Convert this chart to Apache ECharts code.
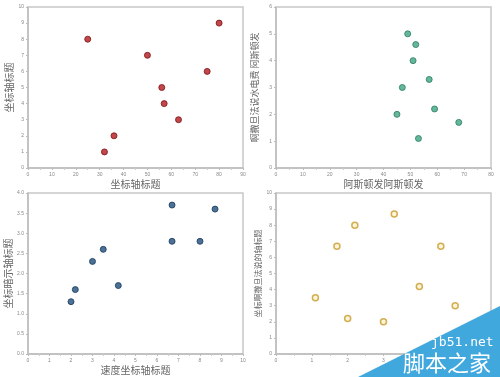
<!DOCTYPE html>
<html><head><meta charset="utf-8">
<script src="https://cdn.jsdelivr.net/npm/echarts@6/dist/echarts.min.js"></script>
<style>html,body{margin:0;padding:0;background:#fff}#c{width:500px;height:377px}</style>
</head><body><div id="c"></div>
<script>
// Panel 1
const p1X = [25, 50, 80, 75, 56, 57, 63, 36, 32];
const p1Y = [8, 7, 9, 6, 5, 4, 3, 2, 1];
// Panel 2
const p2X = [49, 52, 51, 57, 47, 59, 45, 68, 53];
const p2Y = [5, 4.6, 4, 3.3, 3, 2.2, 2, 1.7, 1.1];
// Panel 3
const p3X = [2, 2.2, 3, 3.5, 4.2, 6.7, 6.7, 8, 8.7];
const p3Y = [1.3, 1.6, 2.3, 2.6, 1.7, 3.7, 2.8, 2.8, 3.6];
// Panel 4
const p4X = [1.1, 1.7, 2, 2.2, 3, 3.3, 4, 4.6, 5];
const p4Y = [3.5, 6.7, 2.2, 8, 2, 8.7, 4.2, 6.7, 3];

const xNames = ['坐标轴标题', '阿斯顿发阿斯顿发', '速度坐标轴标题', ''];
const yNames = ['坐标轴标题', '啊撒旦法说水电费 阿斯顿发', '坐标暗示轴标题', '坐标啊撒旦法说的轴标题'];
const xRanges = [[0, 90, 10], [0, 80, 10], [0, 10, 1], [0, 6, 1]];
const yRanges = [[0, 10, 1], [0, 6, 1], [0, 4, 0.5], [0, 10, 1]];

const pairs = [[p1X, p1Y], [p2X, p2Y], [p3X, p3Y], [p4X, p4Y]];
const fills = ['#b3191e', '#3da585', '#1f4e7a', '#fff3cf'];
const borders = ['#7a1014', '#2a7a60', '#163a5c', '#c79a2a'];

const grids = [
  {left: 28, top: 7, width: 215, height: 161},
  {left: 276, top: 7, width: 215, height: 161},
  {left: 28, top: 193, width: 215, height: 161},
  {left: 276, top: 193, width: 215, height: 161}
].map(g => Object.assign({show: true, borderColor: '#c8c8c8', borderWidth: 1.5, backgroundColor: '#fff'}, g));

const font = '"Noto Sans CJK SC", sans-serif';
const xAxis = xRanges.map((r, i) => ({
  type: 'value', gridIndex: i, min: r[0], max: r[1], interval: r[2],
  name: xNames[i], nameLocation: 'middle', nameGap: 11,
  nameTextStyle: {fontFamily: font, fontSize: 10, color: '#666'},
  axisLine: {show: true, lineStyle: {color: '#bdbdbd', width: 1.5}},
  axisTick: {show: true, length: 2, inside: false, lineStyle: {color: '#bbb'}},
  minorTick: {show: true, splitNumber: 2, length: 2, lineStyle: {color: '#ccc'}},
  splitLine: {show: false},
  axisLabel: {fontSize: 5, color: '#888', margin: 4, fontFamily: 'Liberation Sans'}
}));
const yAxis = yRanges.map((r, i) => ({
  type: 'value', gridIndex: i, min: r[0], max: r[1], interval: r[2],
  name: yNames[i], nameLocation: 'middle', nameGap: i === 1 ? 17 : 14, nameRotate: 90,
  nameTextStyle: {fontFamily: font, fontSize: i === 3 ? 8 : (i === 1 ? 9 : 10), color: '#666'},
  axisLine: {show: true, lineStyle: {color: '#bdbdbd', width: 1.5}},
  axisTick: {show: true, length: 2, lineStyle: {color: '#bbb'}},
  splitLine: {show: false},
  axisLabel: {fontSize: 5, color: '#888', margin: 4, fontFamily: 'Liberation Sans',
    formatter: i === 2 ? (v => v.toFixed(1)) : undefined}
}));

const series = pairs.map((p, i) => ({
  type: 'scatter', xAxisIndex: i, yAxisIndex: i, symbolSize: 6,
  data: p[0].map((x, k) => [x, p[1][k]]),
  itemStyle: {color: fills[i], borderColor: borders[i], borderWidth: i === 3 ? 1.5 : 1}
}));

const chart = echarts.init(document.getElementById('c'), null, {renderer: 'canvas'});
chart.setOption({
  animation: false,
  grid: grids, xAxis, yAxis, series,
  graphic: [
    {type: 'polygon', z: 100, shape: {points: [[358, 377], [500, 306], [500, 377]]}, style: {fill: '#41a8de'}},
    {type: 'text', z: 101, left: 431, top: 336, style: {text: 'jb51.net', fill: '#fff', font: '13px "DejaVu Sans Mono", monospace'}},
    {type: 'text', z: 101, left: 403, top: 352, style: {text: '脚本之家', fill: '#fff', font: '22px "Noto Sans CJK SC", sans-serif'}}
  ]
});
</script></body></html>
